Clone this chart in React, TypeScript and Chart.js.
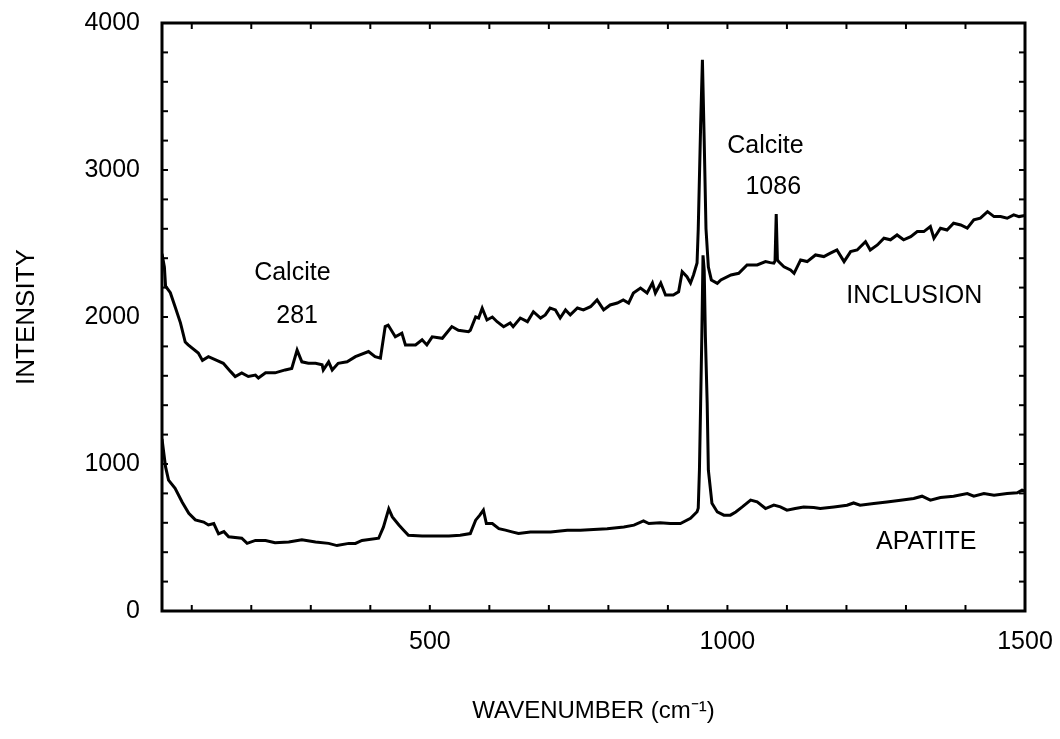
import React, { useEffect, useRef } from 'react';
import { Chart, registerables } from 'chart.js';

Chart.register(...registerables);

// INCLUSION spectrum (wavenumber cm-1, intensity)
const inclusionX = [50, 54, 56, 64, 72, 81, 89, 94, 111, 118, 128, 142, 153, 165, 173, 184, 195, 207, 212, 224, 240, 257, 268, 277, 285, 296, 308, 319, 321, 330, 336, 346, 361, 375, 397, 408, 417, 425, 430, 442, 453, 459, 476, 487, 495, 504, 521, 537, 548, 565, 568, 577, 582, 588, 596, 605, 613, 624, 635, 640, 652, 664, 674, 686, 694, 702, 711, 719, 728, 736, 748, 758, 770, 781, 792, 803, 815, 825, 834, 842, 854, 865, 874, 879, 888, 896, 909, 918, 924, 932, 938, 943, 949, 951, 955, 958, 961, 964, 968, 973, 983, 989, 1006, 1019, 1033, 1050, 1064, 1072, 1078, 1080, 1082, 1084, 1086, 1095, 1106, 1112, 1123, 1134, 1148, 1162, 1173, 1184, 1196, 1207, 1218, 1232, 1240, 1252, 1263, 1274, 1285, 1296, 1308, 1319, 1330, 1341, 1347, 1358, 1369, 1380, 1392, 1403, 1414, 1425, 1437, 1448, 1459, 1470, 1481, 1490, 1500];
const inclusionY = [2430, 2340, 2210, 2165, 2070, 1960, 1830, 1810, 1755, 1705, 1730, 1705, 1685, 1630, 1595, 1620, 1595, 1605, 1585, 1620, 1620, 1640, 1650, 1775, 1695, 1685, 1685, 1675, 1640, 1695, 1640, 1685, 1695, 1730, 1765, 1730, 1720, 1935, 1945, 1865, 1890, 1810, 1810, 1845, 1810, 1865, 1855, 1935, 1910, 1900, 1910, 2000, 1993, 2060, 1980, 2000, 1968, 1934, 1959, 1934, 1993, 1968, 2036, 1993, 2014, 2061, 2048, 1993, 2048, 2014, 2061, 2048, 2070, 2116, 2048, 2082, 2095, 2116, 2095, 2163, 2197, 2163, 2231, 2163, 2231, 2150, 2150, 2172, 2308, 2274, 2231, 2286, 2367, 2600, 3300, 3750, 3200, 2600, 2340, 2252, 2229, 2252, 2286, 2297, 2354, 2354, 2377, 2370, 2366, 2380, 2700, 2390, 2377, 2342, 2320, 2297, 2388, 2377, 2422, 2411, 2434, 2456, 2377, 2445, 2456, 2513, 2456, 2490, 2536, 2525, 2558, 2525, 2547, 2581, 2581, 2615, 2536, 2604, 2592, 2638, 2626, 2604, 2661, 2672, 2717, 2683, 2683, 2672, 2695, 2683, 2690];

// APATITE spectrum
const apatiteX = [50, 56, 61, 72, 84, 95, 106, 120, 128, 137, 145, 154, 162, 184, 193, 207, 224, 240, 263, 285, 308, 330, 344, 364, 375, 386, 414, 422, 431, 437, 448, 456, 464, 487, 509, 532, 551, 568, 577, 584, 590, 595, 605, 616, 627, 638, 649, 669, 686, 703, 731, 753, 775, 798, 826, 843, 859, 868, 887, 904, 921, 938, 949, 951, 953, 955, 957, 959, 961, 963, 966, 968, 974, 983, 994, 1005, 1014, 1025, 1039, 1050, 1064, 1078, 1089, 1100, 1114, 1128, 1145, 1156, 1179, 1201, 1212, 1223, 1246, 1268, 1291, 1313, 1327, 1341, 1358, 1380, 1403, 1414, 1431, 1448, 1470, 1487, 1495, 1500];
const apatiteY = [1170, 980, 890, 835, 740, 665, 620, 605, 585, 595, 525, 540, 505, 495, 460, 480, 480, 465, 470, 485, 470, 460, 445, 460, 460, 480, 495, 570, 695, 640, 585, 550, 515, 510, 510, 510, 516, 527, 618, 652, 686, 595, 595, 560, 550, 538, 527, 538, 538, 538, 550, 550, 555, 560, 572, 584, 613, 595, 600, 595, 595, 630, 675, 700, 960, 1410, 1870, 2420, 2320, 1866, 1414, 958, 733, 674, 652, 652, 674, 708, 754, 742, 697, 720, 708, 686, 697, 708, 704, 697, 708, 720, 735, 720, 731, 742, 754, 765, 781, 754, 772, 781, 799, 781, 799, 788, 799, 804, 822, 815];

const xTickLabels = [500, 1000, 1500];
const yTickLabels = [0, 1000, 2000, 3000, 4000];

const annotationTexts = ['Calcite', '281', 'Calcite', '1086', 'INCLUSION', 'APATITE'];
const annotationX = [269, 277, 1064, 1077, 1314, 1334];
const annotationY = [2300, 2003, 3161, 2887, 2143, 468];

const FONT = '"Liberation Sans", Arial, Helvetica, sans-serif';

export default function App() {
  const ref = useRef<HTMLCanvasElement>(null);

  useEffect(() => {
    if (!ref.current) return;
    const toPts = (xs: number[], ys: number[]) => xs.map((x, i) => ({ x, y: ys[i] }));

    const framePlugin = {
      id: 'frame',
      afterDraw(chart: any) {
        const { ctx, chartArea: a, scales } = chart;
        const xs = scales.x;
        const ys = scales.y;
        ctx.save();
        ctx.strokeStyle = '#000';
        ctx.lineWidth = 2;
        const seg = (x1: number, y1: number, x2: number, y2: number) => {
          ctx.beginPath();
          ctx.moveTo(x1, y1);
          ctx.lineTo(x2, y2);
          ctx.stroke();
        };
        for (const t of xs.ticks) {
          const p = xs.getPixelForValue(t.value);
          if (p <= a.left + 2 || p >= a.right - 2) continue;
          seg(p, a.bottom, p, a.bottom - 6);
          seg(p, a.top, p, a.top + 6);
        }
        for (const t of ys.ticks) {
          const p = ys.getPixelForValue(t.value);
          if (p <= a.top + 2 || p >= a.bottom - 2) continue;
          seg(a.left, p, a.left + 6, p);
          seg(a.right, p, a.right - 6, p);
        }
        ctx.lineWidth = 3;
        ctx.strokeRect(a.left, a.top, a.right - a.left, a.bottom - a.top);

        ctx.fillStyle = '#000';
        ctx.font = `25px ${FONT}`;
        ctx.textAlign = 'center';
        ctx.textBaseline = 'middle';
        annotationTexts.forEach((txt, i) => {
          ctx.fillText(txt, xs.getPixelForValue(annotationX[i]), ys.getPixelForValue(annotationY[i]));
        });
        ctx.restore();
      },
    };

    const chart = new Chart(ref.current, {
      type: 'line',
      data: {
        datasets: [
          {
            label: 'INCLUSION',
            data: toPts(inclusionX, inclusionY),
            borderColor: '#000',
            borderWidth: 3,
            pointRadius: 0,
            tension: 0,
            fill: false,
          },
          {
            label: 'APATITE',
            data: toPts(apatiteX, apatiteY),
            borderColor: '#000',
            borderWidth: 3,
            pointRadius: 0,
            tension: 0,
            fill: false,
          },
        ],
      },
      options: {
        animation: false,
        responsive: false,
        devicePixelRatio: 1,
        layout: { padding: { top: 23, right: 35, bottom: 0, left: 0 } },
        plugins: { legend: { display: false }, tooltip: { enabled: false } },
        scales: {
          x: {
            type: 'linear',
            min: 50,
            max: 1500,
            afterFit: (s: any) => {
              s.height = 128;
              s.paddingLeft = 0;
              s.paddingRight = 0;
            },
            grid: { display: false, drawTicks: false },
            border: { display: false },
            ticks: {
              stepSize: 100,
              includeBounds: false,
              autoSkip: false,
              maxRotation: 0,
              padding: 16,
              color: '#000',
              font: { family: FONT, size: 25 },
              callback: (v: any) => (xTickLabels.includes(Number(v)) ? String(v) : ''),
            },
            title: {
              display: true,
              text: 'WAVENUMBER (cm\u207B\u00B9)',
              color: '#000',
              font: { family: FONT, size: 24 },
              padding: { top: 0, bottom: 13 },
            },
          },
          y: {
            type: 'linear',
            min: 0,
            max: 4000,
            afterFit: (s: any) => {
              s.width = 162;
              s.paddingTop = 0;
              s.paddingBottom = 0;
            },
            grid: { display: false, drawTicks: false },
            border: { display: false },
            ticks: {
              stepSize: 200,
              autoSkip: false,
              padding: 22,
              color: '#000',
              font: { family: FONT, size: 25 },
              callback: (v: any) => (yTickLabels.includes(Number(v)) ? String(v) : ''),
            },
            title: {
              display: true,
              text: 'INTENSITY',
              color: '#000',
              font: { family: FONT, size: 26 },
              padding: { top: 11, bottom: 0 },
            },
          },
        },
      },
      plugins: [framePlugin],
    });
    return () => chart.destroy();
  }, []);

  return (
    <div style={{ position: 'absolute', left: 0, top: 0, width: 1060, height: 739, background: '#fff' }}>
      <canvas ref={ref} width={1060} height={739} />
    </div>
  );
}
